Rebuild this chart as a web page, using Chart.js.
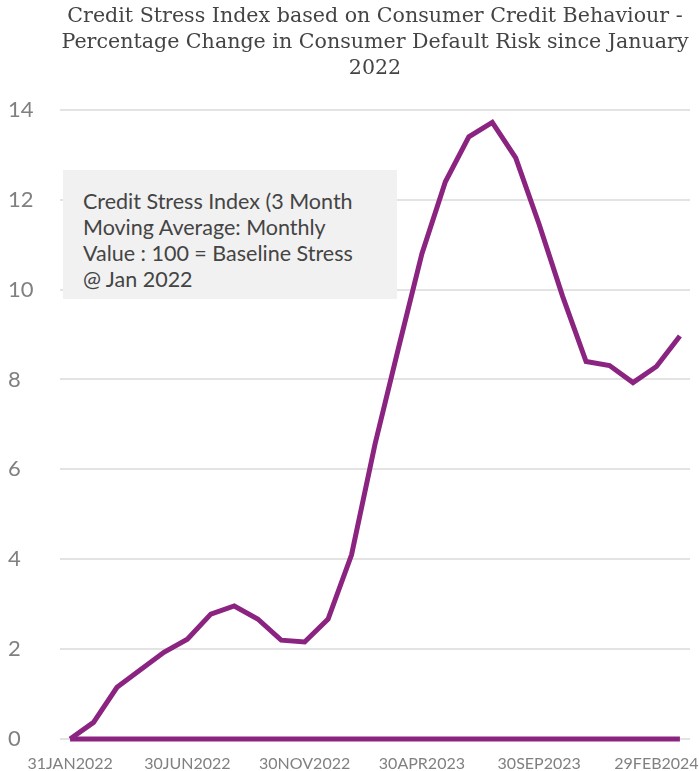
<!DOCTYPE html>
<html>
<head>
<meta charset="utf-8">
<script src="https://cdn.jsdelivr.net/npm/chart.js@4/dist/chart.umd.min.js"></script>
<style>
  html, body { margin: 0; padding: 0; background: #fff; }
  #wrap { position: relative; width: 699px; height: 771px; }
  #note {
    position: absolute; left: 63px; top: 170px; width: 334px; height: 129px;
    background: #f1f1f1; box-sizing: border-box; padding: 18px 0 0 20px;
    font: 21.5px Lato, "Open Sans", sans-serif; line-height: 26px; color: #444;
  }
</style>
</head>
<body>
<div id="wrap">
  <canvas id="chart" width="699" height="771"></canvas>
  <div id="note">Credit Stress Index (3 Month<br>Moving Average: Monthly<br>Value : 100 = Baseline Stress<br>@ Jan 2022</div>
</div>
<script>
// ---- data ----
const months = [
  "31JAN2022", "28FEB2022", "31MAR2022", "30APR2022", "31MAY2022", "30JUN2022",
  "31JUL2022", "31AUG2022", "30SEP2022", "31OCT2022", "30NOV2022", "31DEC2022",
  "31JAN2023", "28FEB2023", "31MAR2023", "30APR2023", "31MAY2023", "30JUN2023",
  "31JUL2023", "31AUG2023", "30SEP2023", "31OCT2023", "30NOV2023", "31DEC2023",
  "31JAN2024", "29FEB2024", "31MAR2024"
];
const stressIndex = [
  0, 0.37, 1.15, 1.54, 1.93, 2.22, 2.78, 2.96, 2.67, 2.2, 2.16, 2.67,
  4.1, 6.56, 8.7, 10.8, 12.4, 13.4, 13.72, 12.93, 11.45, 9.85, 8.4, 8.31,
  7.93, 8.29, 8.97
];
const baseline = [
  0, 0, 0, 0, 0, 0, 0, 0, 0, 0, 0, 0, 0, 0,
  0, 0, 0, 0, 0, 0, 0, 0, 0, 0, 0, 0, 0
];
const xTickIdx = [0, 5, 10, 15, 20, 25];
const yTicks = [0, 2, 4, 6, 8, 10, 12, 14];
const titleLines = [
  "Credit Stress Index based on Consumer Credit Behaviour -",
  "Percentage Change in Consumer Default Risk since January",
  "2022"
];

const purple = "rgb(139,36,128)";
const toPts = arr => arr.map((v, i) => ({ x: i, y: v }));

new Chart(document.getElementById("chart"), {
  type: "line",
  data: {
    datasets: [
      {
        label: "Credit Stress Index",
        data: toPts(stressIndex),
        borderColor: purple,
        borderWidth: 5,
        pointRadius: 0,
        tension: 0,
        clip: false
      },
      {
        label: "Baseline",
        data: toPts(baseline),
        borderColor: purple,
        borderWidth: 5,
        pointRadius: 0,
        clip: false
      }
    ]
  },
  options: {
    responsive: false,
    animation: false,
    layout: { padding: { left: 8, right: 9, top: 0, bottom: 0 } },
    plugins: {
      legend: { display: false },
      tooltip: { enabled: false },
      title: {
        display: true,
        fullSize: false,
        text: titleLines,
        color: "#444",
        font: { family: "'DejaVu Serif'", size: 20.6, weight: "normal", lineHeight: 1.26 },
        padding: { top: 4, bottom: 28 }
      }
    },
    scales: {
      x: {
        type: "linear",
        min: -0.43,
        max: 26.43,
        grid: { display: false },
        border: { display: false },
        afterBuildTicks: s => { s.ticks = xTickIdx.map(v => ({ value: v })); },
        afterFit: s => { s.height = 32; s.paddingLeft = 0; s.paddingRight = 0; },
        ticks: {
          padding: 7,
          maxRotation: 0,
          autoSkip: false,
          color: "#808080",
          font: { family: "Lato", size: 16 },
          callback: v => months[v]
        }
      },
      y: {
        min: 0,
        max: 14,
        border: { display: false },
        grid: { color: "#e3e3e3", lineWidth: 2, drawTicks: false },
        afterBuildTicks: s => { s.ticks = yTicks.map(v => ({ value: v })); },
        afterFit: s => { s.width = 52; s.paddingTop = 0; s.paddingBottom = 0; },
        ticks: {
          crossAlign: "far",
          color: "#808080",
          font: { family: "Lato", size: 22 }
        }
      }
    }
  }
});
</script>
</body>
</html>
